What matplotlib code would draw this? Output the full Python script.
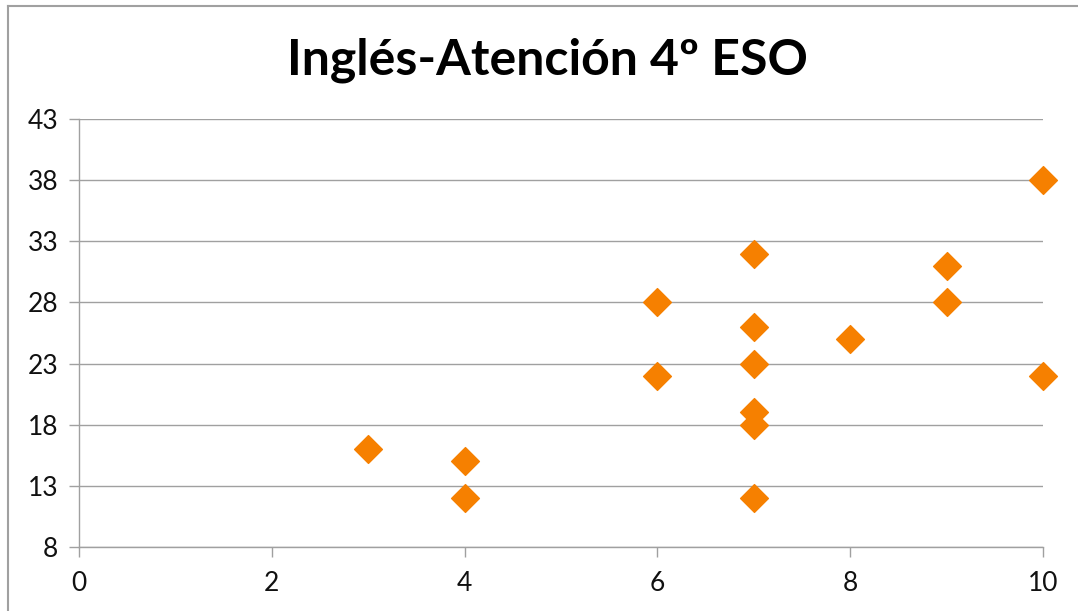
import matplotlib.pyplot as plt
from matplotlib.lines import Line2D

# Inglés (x) vs Atención (y)
ingles = [3, 4, 4, 6, 6, 7, 7, 7, 7, 7, 7, 8, 9, 9, 10, 10]
atencion = [16, 15, 12, 28, 22, 32, 26, 23, 19, 18, 12, 25, 31, 28, 38, 22]
x_ticks = [0, 2, 4, 6, 8, 10]
y_ticks = [8, 13, 18, 23, 28, 33, 38, 43]

plt.rcParams['font.family'] = ['Lato', 'DejaVu Sans']
grey = '#A0A0A0'

fig = plt.figure(figsize=(10.78, 6.11), dpi=100)
ax = fig.add_axes([79/1078, 1-547/611, (1043-79)/1078, (547-119)/611])

ax.scatter(ingles, atencion, marker='D', s=200, color='#F68000', zorder=3, clip_on=False)

ax.set_xlim(0, 10)
ax.set_ylim(8, 43)
ax.set_xticks(x_ticks)
ax.set_yticks(y_ticks)
ax.tick_params(axis='both', labelsize=19, colors=grey, labelcolor='#111111',
               length=7, width=1)
ax.tick_params(axis='x', pad=10)
ax.tick_params(axis='y', pad=8)
ax.grid(axis='y', color=grey, linewidth=1)
ax.set_axisbelow(True)
for s in ['top', 'right']:
    ax.spines[s].set_visible(False)
for s in ['left', 'bottom']:
    ax.spines[s].set_color(grey)
    ax.spines[s].set_linewidth(1)

fig.text(547/1078, 1-60/611, 'Inglés-Atención 4º ESO', ha='center', va='center',
         fontsize=36, fontweight='bold')

# chart frame (top and left edges visible)
fig.add_artist(Line2D([8/1078, 8/1078], [0, 1-6/611], color=grey, linewidth=1.5,
                      transform=fig.transFigure))
fig.add_artist(Line2D([8/1078, 1], [1-6/611, 1-6/611], color=grey, linewidth=1.5,
                      transform=fig.transFigure))

fig.savefig('out.png', dpi=100)
